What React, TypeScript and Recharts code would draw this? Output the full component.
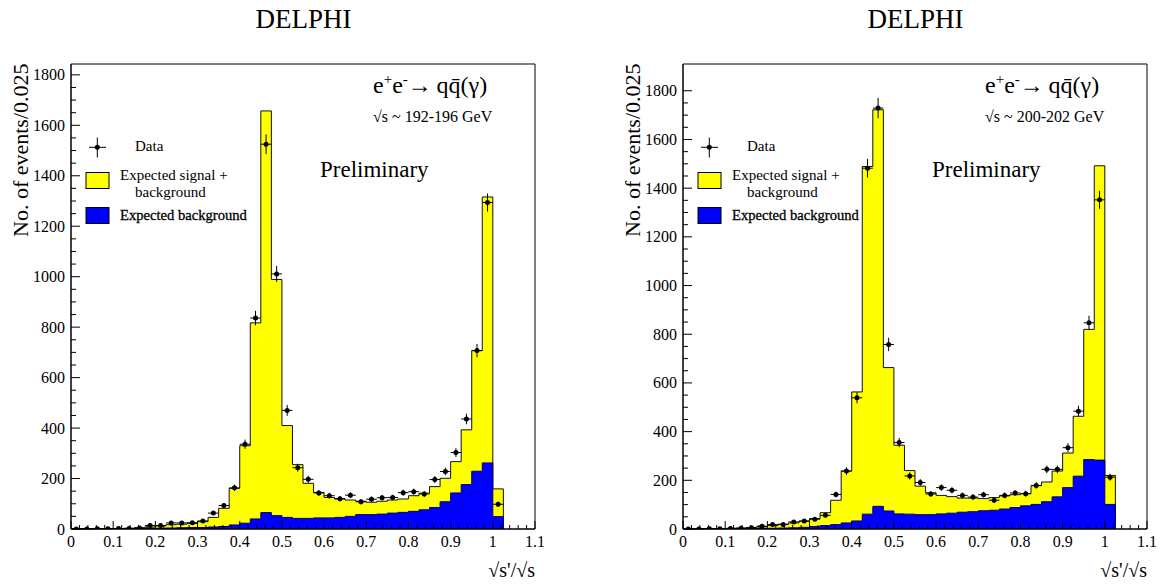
import { ComposedChart, Area, Scatter, ErrorBar, XAxis, YAxis, ReferenceArea } from 'recharts';

const SERIF = '"Liberation Serif", "DejaVu Serif", serif';
const BIN = 0.025;

// lower edge of each of the 41 bins (0 .. 1.0)
const binStart = Array.from({ length: 41 }, (_, i) => i * BIN);

// sqrt(s) ~ 192-196 GeV
const totalL = [1, 1, 1, 2, 2, 3, 5, 8, 12, 17, 19, 22, 29, 46, 82, 161, 330, 817, 1657, 989, 410, 255, 181, 145, 125, 119, 115, 110, 106, 110, 115, 119, 132, 142, 168, 201, 267, 393, 707, 1316, 159];
const bkgL = [0, 0, 1, 1, 1, 2, 2, 3, 3, 4, 5, 6, 6, 8, 10, 16, 23, 40, 65, 53, 46, 42, 42, 44, 44, 46, 50, 57, 57, 59, 63, 66, 70, 76, 85, 108, 143, 176, 229, 262, 49];
const dataL = [0, 0, 1, 1, 2, 2, 4, 14, 14, 24, 24, 25, 32, 63, 93, 163, 336, 836, 1525, 1011, 470, 243, 197, 143, 132, 120, 134, 108, 118, 124, 125, 144, 148, 139, 196, 228, 303, 436, 707, 1294, 98];

// sqrt(s) ~ 200-202 GeV
const totalR = [1, 1, 1, 2, 3, 4, 6, 10, 14, 20, 25, 32, 43, 67, 118, 238, 563, 1489, 1722, 663, 344, 240, 176, 149, 138, 133, 127, 127, 125, 129, 136, 141, 145, 178, 193, 238, 312, 463, 820, 1492, 220];
const bkgR = [0, 0, 1, 1, 1, 2, 2, 3, 3, 4, 5, 7, 10, 14, 18, 25, 33, 61, 93, 74, 62, 61, 59, 59, 62, 65, 69, 71, 75, 77, 82, 88, 95, 101, 112, 132, 170, 217, 285, 283, 101];
const dataR = [0, 0, 1, 1, 2, 3, 5, 11, 18, 18, 29, 33, 40, 56, 142, 238, 539, 1482, 1729, 758, 355, 218, 191, 144, 170, 159, 138, 131, 141, 118, 138, 148, 145, 179, 245, 245, 334, 484, 847, 1352, 213];

const xTicks = Array.from({ length: 56 }, (_, i) => Number((i * 0.02).toFixed(2)));
const yTicks = Array.from({ length: 37 }, (_, i) => i * 50);

const XTick = (props: any) => {
  const { x, y, payload } = props;
  const v = payload.value;
  const major = Math.abs(v * 10 - Math.round(v * 10)) < 1e-6;
  return (
    <g>
      <line x1={x} x2={x} y1={y} y2={y - (major ? 8 : 4)} stroke="#000" />
      {major && (
        <text x={x} y={y + 18} textAnchor="middle" fontSize={16} fontFamily={SERIF} fill="#000">
          {String(Number(v.toFixed(1)))}
        </text>
      )}
    </g>
  );
};

const YTick = (props: any) => {
  const { x, y, payload } = props;
  const v = payload.value;
  const major = v % 200 === 0;
  return (
    <g>
      <line x1={x} x2={x + (major ? 9 : 5)} y1={y} y2={y} stroke="#000" />
      {major && (
        <text x={x - 6} y={y + 5.5} textAnchor="end" fontSize={16} fontFamily={SERIF} fill="#000">
          {v}
        </text>
      )}
    </g>
  );
};

const Dot = (p: any) => <circle cx={p.cx} cy={p.cy} r={2.5} fill="#000" />;

const Panel = ({ left, total, bkg, data, yMax, energy }: any) => {
  // histogram outline: one row per bin edge, plus a closing row at 1.025
  const hist = binStart.map((x, i) => ({ x, tot: total[i], bg: bkg[i] }));
  hist.push({ x: 41 * BIN, tot: 0, bg: 0 });
  const points = binStart.map((x, i) => ({ x: x + BIN / 2, y: data[i], ex: BIN / 2, ey: Math.sqrt(data[i]) }));

  return (
    <div style={{ position: 'absolute', left, top: 0, width: 552, height: 585 }}>
      <ComposedChart width={552} height={585} data={hist} margin={{ top: 64, right: 17, left: 26, bottom: 26 }}>
        <XAxis dataKey="x" type="number" domain={[0, 1.1]} ticks={xTicks} interval={0} allowDataOverflow
          tickSize={0} tickMargin={0} tickLine={false} tick={<XTick />} height={30} stroke="#000" />
        <YAxis type="number" domain={[0, yMax]} ticks={yTicks} interval={0} allowDataOverflow
          tickSize={0} tickMargin={0} tickLine={false} tick={<YTick />} width={45} stroke="#000" />
        <Area type="stepAfter" dataKey="tot" fill="#ffff00" fillOpacity={1} stroke="#111" strokeWidth={1} isAnimationActive={false} />
        <Area type="stepAfter" dataKey="bg" fill="#0000ff" fillOpacity={1} stroke="#000070" strokeWidth={1} isAnimationActive={false} />
        <Scatter data={points} dataKey="y" shape={<Dot />} isAnimationActive={false}>
          <ErrorBar dataKey="ey" direction="y" width={0} stroke="#000" strokeWidth={1} isAnimationActive={false} />
          <ErrorBar dataKey="ex" direction="x" width={0} stroke="#000" strokeWidth={1} isAnimationActive={false} />
        </Scatter>
        <ReferenceArea x1={0} x2={1.1} y1={0} y2={yMax} fill="none" stroke="#000" strokeWidth={1} ifOverflow="visible" />
      </ComposedChart>

      <svg width={552} height={585} style={{ position: 'absolute', left: 0, top: 0, pointerEvents: 'none' }} fontFamily={SERIF}>
        <text x={303.5} y={28} textAnchor="middle" fontSize={27} fill="#000">DELPHI</text>
        <text transform="rotate(-90)" x={-237} y={28} fontSize={22} fill="#000">No. of events/0.025</text>
        <text x={535} y={577} textAnchor="end" fontSize={20} fill="#000">√s'/√s</text>

        {/* legend */}
        <line x1={89} x2={106} y1={147.3} y2={147.3} stroke="#000" />
        <line x1={97.3} x2={97.3} y1={137.5} y2={157.5} stroke="#000" />
        <circle cx={97.3} cy={147.3} r={2.5} fill="#000" />
        <text x={135} y={151} fontSize={15} fill="#000">Data</text>
        <rect x={86} y={172.5} width={23} height={16} fill="#ffff00" stroke="#000" />
        <text x={120} y={180} fontSize={15} fill="#000">Expected signal +</text>
        <text x={135} y={196.5} fontSize={15} fill="#000">background</text>
        <rect x={86} y={207.5} width={23} height={16} fill="#0000ff" stroke="#000" />
        <text x={120} y={220} fontSize={14.6} fill="#000" stroke="#000" strokeWidth={0.3}>Expected background</text>

        {/* annotations */}
        <text x={373} y={93} fontSize={24} fill="#000">
          e<tspan dy={-9} fontSize={15}>+</tspan><tspan dy={9}>e</tspan><tspan dy={-9} fontSize={15}>-</tspan><tspan dy={9}>{'\u2192\u2009qq\u0304(γ)'}</tspan>
        </text>
        <text x={373} y={122} fontSize={16} fill="#000">√s ~ {energy} GeV</text>
        <text x={320} y={177} fontSize={23} fill="#000">Preliminary</text>
      </svg>
    </div>
  );
};

export default function App() {
  return (
    <div style={{ position: 'absolute', left: 0, top: 0, width: 1164, height: 585, background: '#fff' }}>
      <Panel left={0} total={totalL} bkg={bkgL} data={dataL} yMax={1843} energy="192-196" />
      <Panel left={612} total={totalR} bkg={bkgR} data={dataR} yMax={1910} energy="200-202" />
    </div>
  );
}
